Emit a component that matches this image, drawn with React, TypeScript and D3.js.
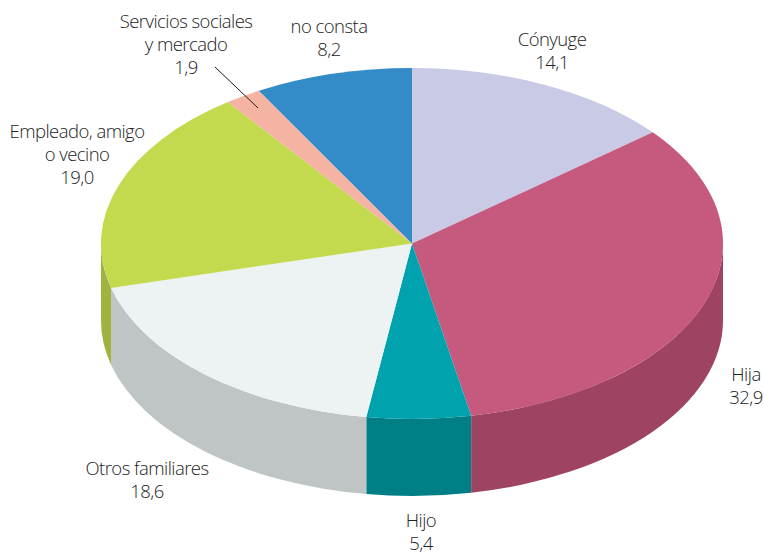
import React from "react";
import * as d3 from "d3";

const categories = ["Cónyuge", "Hija", "Hijo", "Otros familiares", "Empleado, amigo o vecino", "Servicios sociales y mercado", "no consta"];
const values = [14.1, 32.9, 5.4, 18.6, 19.0, 1.9, 8.2];
const topColors = ["#c8cae6", "#c6597e", "#00a3ad", "#edf3f3", "#c3da4f", "#f5b3a4", "#338cc8"];
const sideColors = ["#a0a2b8", "#9e4462", "#007f87", "#bec5c4", "#a0b240", "#c9907f", "#286fa0"];
const labelLines = [["Cónyuge", "14,1"], ["Hija", "32,9"], ["Hijo", "5,4"], ["Otros familiares", "18,6"], ["Empleado, amigo", "o vecino", "19,0"], ["Servicios sociales", "y mercado", "1,9"], ["no consta", "8,2"]];
const labelAnchors: [number, number][] = [[552, 46], [746, 381], [421, 527], [147, 475], [77, 138], [186, 28], [329, 33]];

const W = 764, H = 555;
const cx = 412, cy = 243.5, rx = 311, ry = 175.5, depth = 77;
const LH = 23;

export default function App() {
  const pie = d3.pie<number>().sort(null).value((d) => d);
  const arcs = pie(values);
  const arc = d3.arc<d3.PieArcDatum<number>>().innerRadius(0).outerRadius(rx);
  const pt = (a: number, dy = 0): [number, number] => [cx + rx * Math.sin(a), cy - ry * Math.cos(a) + dy];
  const wall = (a0: number, a1: number) => {
    const s = Math.max(a0, Math.PI / 2), e = Math.min(a1, (3 * Math.PI) / 2);
    if (e <= s) return null;
    const p0 = pt(s), p1 = pt(e), p2 = pt(e, depth), p3 = pt(s, depth);
    return `M${p0}A${rx},${ry} 0 0 1 ${p1}L${p2}A${rx},${ry} 0 0 0 ${p3}Z`;
  };
  return (
    <svg width={W} height={H} viewBox={`0 0 ${W} ${H}`} style={{ position: "absolute", left: 0, top: 0 }}>
      {arcs.map((d, i) => {
        const p = wall(d.startAngle, d.endAngle);
        return p ? <path key={i} d={p} fill={sideColors[i]} /> : null;
      })}
      <g transform={`translate(${cx},${cy}) scale(1,${ry / rx})`}>
        {arcs.map((d, i) => <path key={i} d={arc(d) as string} fill={topColors[i]} />)}
      </g>
      <line x1={215} y1={67} x2={258} y2={108} stroke="#1a1a1a" strokeWidth={1} />
      <g fontFamily="'Open Sans', sans-serif" fontWeight={300} fontSize={18.5} letterSpacing={-0.55} fill="#222" textAnchor="middle">
        {labelLines.map((lines, i) => (
          <text key={categories[i]} x={labelAnchors[i][0]} y={labelAnchors[i][1]}>
            {lines.map((l, j) => <tspan key={j} x={labelAnchors[i][0]} y={labelAnchors[i][1] + j * LH}>{l}</tspan>)}
          </text>
        ))}
      </g>
    </svg>
  );
}
